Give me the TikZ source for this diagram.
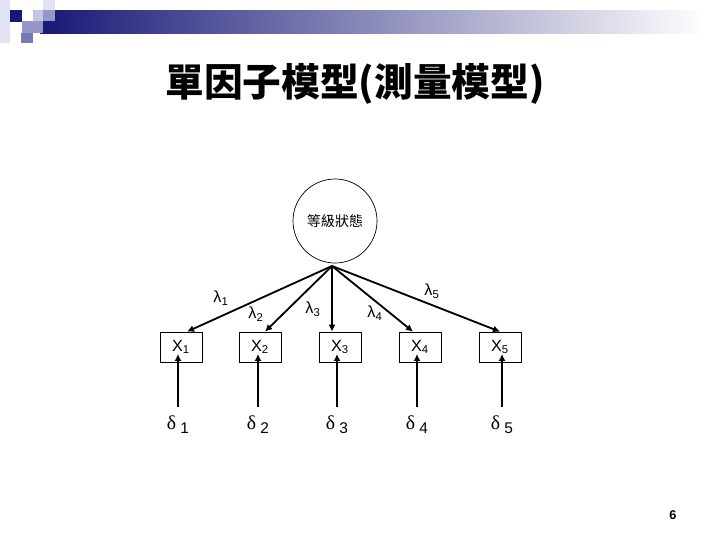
\documentclass[tikz,border=0pt]{standalone}
\usepackage{fontspec}
\setmainfont{Liberation Sans}
\newfontfamily\cjk{Noto Sans CJK TC}
\newfontfamily\grk{Liberation Serif}
\usetikzlibrary{arrows.meta,calc}
\definecolor{navy}{RGB}{24,24,118}
\definecolor{lavlight}{RGB}{226,226,242}
\definecolor{lav}{RGB}{196,196,228}
\definecolor{lavmid}{RGB}{150,150,200}
\definecolor{lavdark}{RGB}{120,120,180}
\begin{document}
\begin{tikzpicture}[x=0.025cm,y=-0.025cm,
  obs/.style={draw,line width=0.5pt,minimum width=1.05cm,minimum height=0.75cm,inner sep=0pt,font=\fontsize{11.5}{13}\selectfont},
  load/.style={line width=1.3pt,-{Latex[length=5pt,width=5pt]}},
  lab/.style={inner sep=0pt,font=\fontsize{11.5}{13}\selectfont}]
  \useasboundingbox (0,0) rectangle (720,540);
  % header: gradient bar and small squares
  \shade[left color=navy,right color=white] (40,10) rectangle (705,33);
  \fill[white] (705,10) rectangle (720,33);
  \fill[lavlight] (0,0) rectangle (10,43);
  \fill[navy] (10,10) rectangle (22,22);
  \fill[lav] (33,10) rectangle (43,21);
  \fill[lavlight] (43,0) rectangle (55,10);
  \fill[lavmid] (43,10) rectangle (55,21);
  \fill[lavmid] (22,21) rectangle (43,33);
  \fill[lavdark] (21,33) rectangle (33,43);
  % title
  \node[font=\fontsize{27.5}{32}\selectfont\cjk\bfseries] (title) at (355,84) {單因子模型(測量模型)};
  % latent factor
  \node[draw,circle,line width=0.5pt,minimum size=2.1cm,inner sep=0pt,font=\fontsize{10}{12}\selectfont\cjk] (f) at (335,221) {等級狀態};
  \coordinate (apex) at (332,266);
  % indicator boxes
  \foreach \i/\x in {1/181,2/260,3/340,4/420,5/500}
    \node[obs] (x\i) at (\x,347) {X\textsubscript{\i}};
  % loadings
  \foreach \i/\dx in {1/6,2/5,3/-8,4/-7,5/0}
    \draw[load] (apex) -- ($(x\i.north)+(\dx,0)$);
  \node[lab] (l1) at (221,298) {λ\textsubscript{1}};
  \node[lab] (l2) at (256,314) {λ\textsubscript{2}};
  \node[lab] (l3) at (313,309) {λ\textsubscript{3}};
  \node[lab] (l4) at (375,313) {λ\textsubscript{4}};
  \node[lab] (l5) at (432,291) {λ\textsubscript{5}};
  % measurement errors
  \foreach \i/\x in {1/178,2/258,3/337,4/417,5/502} {
    \node[lab] (d\i) at (\x,425) {{\grk\fontsize{14}{14}\selectfont δ}\hspace{3pt}\raisebox{-3pt}{\fontsize{11}{12}\selectfont\i}};
    \draw[load] ([yshift=6pt]d\i.north) -- ([yshift=6pt]d\i.north |- x\i.south);
  }
  % page number
  \node[font=\fontsize{9}{10}\selectfont\bfseries] (pg) at (673,515) {6};
\end{tikzpicture}
\end{document}
